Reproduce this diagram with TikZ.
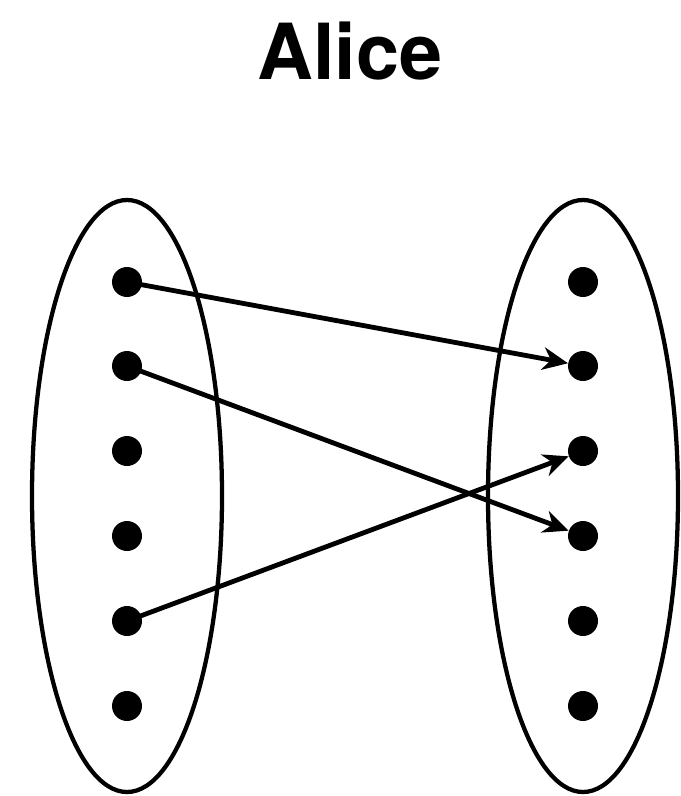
\documentclass[tikz,border=0pt]{standalone}
\usepackage{fontspec}
\setmainfont{TeX Gyre Heros}
\usetikzlibrary{arrows.meta}
\begin{document}
\begin{tikzpicture}[x=0.75pt,y=-0.75pt,
  dotnode/.style={circle,fill=black,inner sep=0pt,minimum size=22.5pt},
  setring/.style={draw=black,line width=3.2pt},
  mapping/.style={line width=3.6pt,-{Stealth[length=19pt,width=17pt,inset=6pt]}}]
\useasboundingbox (0,0) rectangle (681,796);
\node[font=\bfseries\fontsize{58}{60}\selectfont,anchor=base] (title) at (350,79) {Alice};
\draw[setring] (127,496) ellipse [x radius=95,y radius=296];
\draw[setring] (583,496) ellipse [x radius=95,y radius=296];
\foreach \i/\y in {1/282,2/366,3/451,4/536,5/621,6/706}{
  \node[dotnode] (l\i) at (127,\y) {};
  \node[dotnode] (r\i) at (583,\y) {};
}
\draw[mapping] (l1.center) -- (r2);
\draw[mapping] (l2.center) -- (r4);
\draw[mapping] (l5.center) -- (r3);
\end{tikzpicture}
\end{document}
